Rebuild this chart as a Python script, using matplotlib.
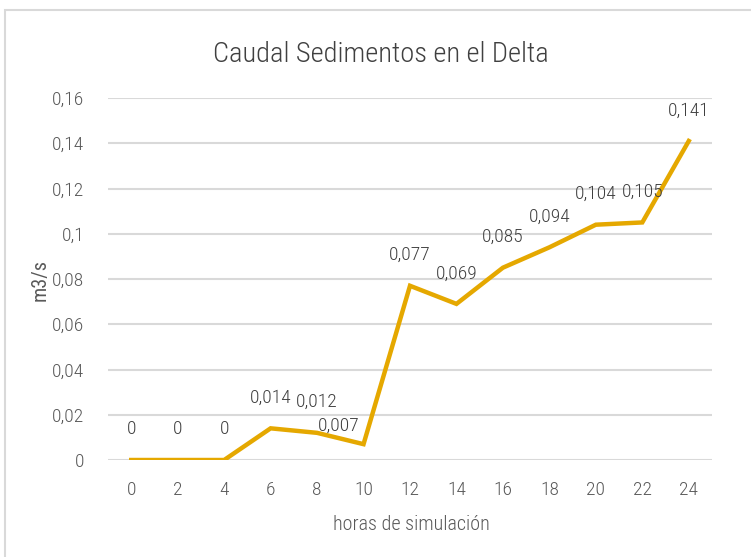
import matplotlib
matplotlib.use("Agg")
import matplotlib.pyplot as plt
from matplotlib.patches import Rectangle

hours = ["0", "2", "4", "6", "8", "10", "12", "14", "16", "18", "20", "22", "24"]
values = [0, 0, 0, 0.014, 0.012, 0.007, 0.077, 0.069, 0.085, 0.094, 0.104, 0.105, 0.141]
value_labels = ["0", "0", "0", "0,014", "0,012", "0,007", "0,077", "0,069", "0,085",
                "0,094", "0,104", "0,105", "0,141"]
yticks = [0, 0.02, 0.04, 0.06, 0.08, 0.1, 0.12, 0.14, 0.16]
ytick_labels = ["0", "0,02", "0,04", "0,06", "0,08", "0,1", "0,12", "0,14", "0,16"]

plt.rcParams['font.family'] = ["Roboto Condensed", "DejaVu Sans"]

W, H = 751, 557
fig = plt.figure(figsize=(W / 100, H / 100), dpi=100)
fig.patches.append(Rectangle((5 / W, -0.1), 1.2, 1.1 - 10 / H, transform=fig.transFigure,
                             fill=False, edgecolor="#D9D9D9", linewidth=1.5))

ax = fig.add_axes([108 / W, 1 - 460 / H, (712 - 108) / W, (460 - 98) / H])
x = list(range(len(hours)))
ax.plot(x, values, color="#E5A800", linewidth=3.2, solid_joinstyle="miter", zorder=3)
ax.set_xlim(-0.5, len(hours) - 0.5)
ax.set_ylim(0, 0.16)
ax.set_yticks(yticks)
ax.set_yticklabels(ytick_labels)
ax.set_xticks(x)
ax.set_xticklabels(hours)
ax.tick_params(length=0, labelsize=14, colors="#595959", pad=15)
ax.tick_params(axis="y", pad=17)
for lab in ax.get_xticklabels() + ax.get_yticklabels():
    lab.set_fontweight("light")
ax.grid(axis="y", color="#D9D9D9", linewidth=1.5)
ax.set_axisbelow(True)
for s in ax.spines.values():
    s.set_visible(False)

for i, (v, lab) in enumerate(zip(values, value_labels)):
    dx, dy = 0, 22
    if lab == "0,007":
        dx, dy = -18, 13
    ax.annotate(lab, (i, v), xytext=(dx, dy), textcoords="offset points",
                ha="center", va="center", fontsize=14, color="#404040", fontweight="light")

fig.text(381 / W, 1 - 55 / H, "Caudal Sedimentos en el Delta", ha="center", va="center",
         fontsize=20.5, color="#404040", fontweight="light")
fig.text(411 / W, 1 - 525 / H, "horas de simulación", ha="center", va="center",
         fontsize=14.5, color="#595959", fontweight="light")
fig.text(40 / W, 1 - 280 / H, "m3/s", ha="center", va="center", rotation=90,
         fontsize=14.5, color="#595959", fontweight="normal")

fig.savefig("out.png", dpi=100)
